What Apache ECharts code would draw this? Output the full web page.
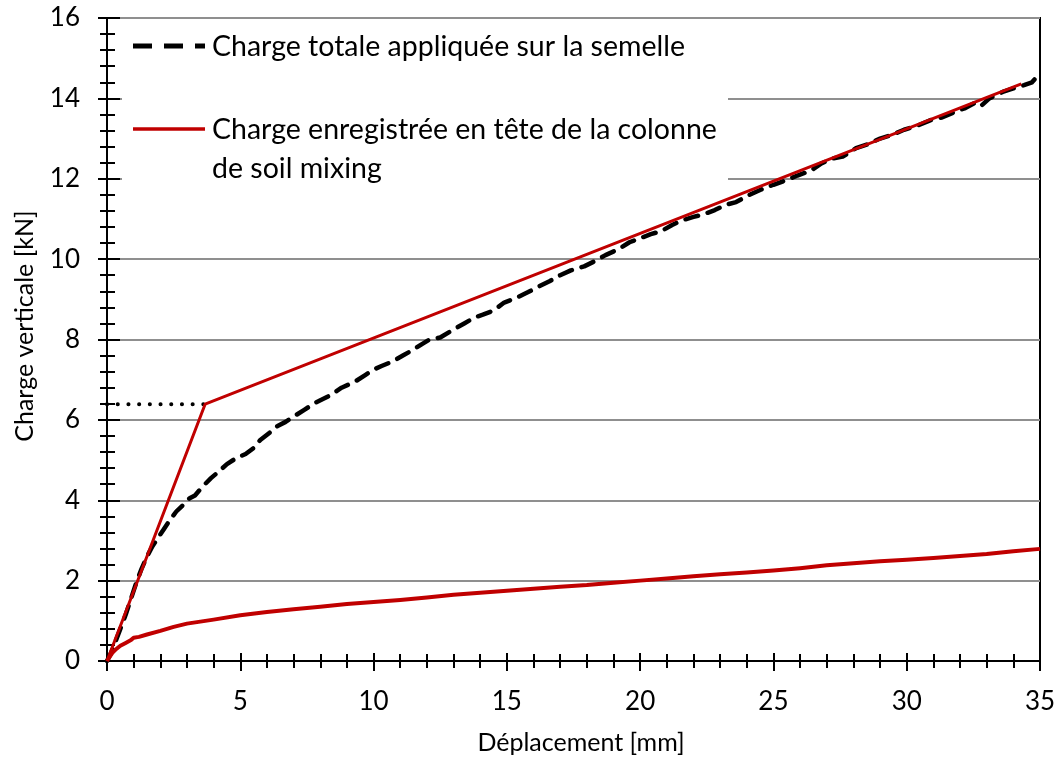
<!DOCTYPE html>
<html>
<head>
<meta charset="utf-8">
<script src="https://cdn.jsdelivr.net/npm/echarts@6/dist/echarts.min.js"></script>
<style>
  html, body { margin: 0; padding: 0; background: #fff; }
  #chart { width: 1062px; height: 769px; }
</style>
</head>
<body>
<div id="chart"></div>
<script>
// Load test: displacement (mm) vs vertical load (kN)

// Total load applied on the footing (measured, dashed black)
const totalDisp = [0, 0.15, 0.3, 0.5, 0.7, 0.9, 1.1, 1.3, 1.5, 1.7, 1.85, 2.1, 2.35, 2.6, 2.85, 3.1, 3.3, 3.6, 3.9, 4.2,
  4.5, 4.85, 5.2, 5.5, 5.75, 6.1, 6.4, 6.7, 7.0, 7.4, 7.8, 8.1, 8.4, 8.8, 9.3, 9.7, 10.0, 10.3, 10.7, 11.1,
  11.5, 11.8, 12.1, 12.5, 13.0, 13.4, 13.8, 14.1, 14.5, 14.9, 15.3, 15.8, 16.2, 16.6, 17.0, 17.4, 17.9, 18.3, 18.7, 19.2,
  19.6, 20.0, 20.4, 20.8, 21.2, 21.6, 22.0, 22.4, 22.8, 23.2, 23.6, 24.1, 24.5, 25.0, 25.5, 25.9, 26.4, 26.8, 27.2, 27.6,
  28.1, 28.5, 29.0, 29.4, 29.9, 30.4, 30.9, 31.3, 31.8, 32.2, 32.6, 32.8, 33.1, 33.6, 34.0, 34.4, 34.7, 34.9];
const totalLoad = [0, 0.2, 0.45, 0.8, 1.15, 1.55, 1.95, 2.3, 2.6, 2.85, 3.0, 3.25, 3.5, 3.72, 3.88, 4.05, 4.12, 4.35, 4.55, 4.72,
  4.9, 5.05, 5.15, 5.3, 5.5, 5.68, 5.85, 5.95, 6.08, 6.25, 6.42, 6.52, 6.62, 6.8, 6.95, 7.12, 7.25, 7.34, 7.45, 7.6,
  7.75, 7.88, 8.0, 8.05, 8.25, 8.4, 8.55, 8.62, 8.72, 8.92, 9.02, 9.18, 9.32, 9.45, 9.6, 9.72, 9.82, 9.95, 10.1, 10.25,
  10.42, 10.52, 10.62, 10.7, 10.85, 10.97, 11.05, 11.12, 11.22, 11.35, 11.42, 11.6, 11.72, 11.85, 11.97, 12.08, 12.2, 12.38, 12.5, 12.55,
  12.76, 12.85, 13.0, 13.08, 13.22, 13.32, 13.46, 13.52, 13.66, 13.76, 13.9, 13.82, 14.0, 14.16, 14.25, 14.33, 14.4, 14.55];

// Load recorded at the head of the soil-mixing column (solid red)
const columnDisp = [0, 0.1, 0.2, 0.35, 0.5, 0.7, 0.9, 1.0, 1.2, 1.5, 2.0, 2.5, 3.0, 3.5, 4.0, 5.0, 6.0, 7.0, 8.0, 9.0,
  10, 11, 12, 13, 14, 15, 16, 17, 18, 19, 20, 21, 22, 23, 24, 25, 26, 27, 28, 29, 30, 31, 32, 33, 34, 35];
const columnLoad = [0, 0.1, 0.2, 0.3, 0.38, 0.45, 0.52, 0.58, 0.6, 0.66, 0.75, 0.85, 0.93, 0.98, 1.03, 1.14, 1.22, 1.29, 1.35, 1.42,
  1.47, 1.52, 1.58, 1.65, 1.70, 1.75, 1.80, 1.85, 1.89, 1.95, 2.00, 2.05, 2.11, 2.16, 2.20, 2.25, 2.31, 2.38, 2.43, 2.48,
  2.52, 2.56, 2.61, 2.66, 2.73, 2.79];

// Bilinear idealisation of the total load and the yield level marker
const bilinearDisp = [0, 3.68, 34.3];
const bilinearLoad = [0, 6.39, 14.36];
const yieldDisp = [0, 3.68];
const yieldLoad = [6.39, 6.39];

const xTicks = [0, 5, 10, 15, 20, 25, 30, 35];
const yTicks = [0, 2, 4, 6, 8, 10, 12, 14, 16];

const legendTotal = 'Charge totale appliquée sur la semelle';
const legendColumn = ['Charge enregistrée en tête de la colonne', 'de soil mixing'];
const xTitle = 'Déplacement [mm]';
const yTitle = 'Charge verticale [kN]';

const pairs = (xs, ys) => xs.map((x, i) => [x, ys[i]]);

const FONT = 'Lato, "Open Sans", sans-serif';
const RED = '#c00000';
const FS_TICK = 26;
const FS_TITLE = 25;
const FS_LEGEND = 28.5;

const chart = echarts.init(document.getElementById('chart'), null, { renderer: 'canvas' });

const baseX = {
  type: 'value', min: xTicks[0], max: xTicks[xTicks.length - 1], interval: 5,
  position: 'bottom',
  axisLine: { show: true, onZero: false, lineStyle: { color: '#000', width: 2 } },
  splitLine: { show: false }
};
const baseY = {
  type: 'value', min: yTicks[0], max: yTicks[yTicks.length - 1], interval: 2,
  position: 'left',
  axisLine: { show: true, onZero: false, lineStyle: { color: '#000', width: 2 } }
};

const option = {
  animation: false,
  backgroundColor: '#fff',
  grid: { left: 107, right: 22, top: 18, bottom: 108, show: true, borderColor: '#000', borderWidth: 2, backgroundColor: 'transparent' },
  xAxis: [
    Object.assign({}, baseX, {
      axisTick: { show: true, inside: false, length: 10, lineStyle: { color: '#000', width: 2 } },
      minorTick: { show: true, splitNumber: 5, length: 7, lineStyle: { color: '#000', width: 2 } },
      axisLabel: { show: true, margin: 28, color: '#000', fontFamily: FONT, fontSize: FS_TICK }
    }),
    Object.assign({}, baseX, {
      axisTick: { show: true, inside: true, length: 8, lineStyle: { color: '#000', width: 2 } },
      minorTick: { show: true, splitNumber: 5, length: 7, lineStyle: { color: '#000', width: 2 } },
      axisLabel: { show: false }
    })
  ],
  yAxis: [
    Object.assign({}, baseY, {
      axisTick: { show: true, inside: false, length: 9, lineStyle: { color: '#000', width: 2 } },
      minorTick: { show: true, splitNumber: 5, length: 7, lineStyle: { color: '#000', width: 2 } },
      axisLabel: { show: true, margin: 27, color: '#000', fontFamily: FONT, fontSize: FS_TICK },
      splitLine: { show: true, lineStyle: { color: '#8f8f8f', width: 2 } }
    }),
    Object.assign({}, baseY, {
      axisTick: { show: true, inside: true, length: 13, lineStyle: { color: '#000', width: 2 } },
      minorTick: { show: true, splitNumber: 5, length: 8, lineStyle: { color: '#000', width: 2 } },
      axisLabel: { show: false },
      splitLine: { show: false }
    })
  ],
  graphic: [
    // legend panel background
    { type: 'rect', z: 1, silent: true, shape: { x: 122, y: 20, width: 606, height: 180 }, style: { fill: '#fff' } },
    { type: 'line', z: 5, shape: { x1: 133, y1: 46, x2: 205, y2: 46 },
      style: { stroke: '#000', lineWidth: 5, lineDash: [19, 12], lineCap: 'butt' } },
    { type: 'text', z: 5, x: 212, y: 47, style: { text: legendTotal, fontFamily: FONT, fontSize: FS_LEGEND, fill: '#000', verticalAlign: 'middle' } },
    { type: 'line', z: 5, shape: { x1: 133, y1: 129, x2: 205, y2: 129 },
      style: { stroke: RED, lineWidth: 3.5 } },
    { type: 'text', z: 5, x: 212, y: 130, style: { text: legendColumn[0], fontFamily: FONT, fontSize: FS_LEGEND, fill: '#000', verticalAlign: 'middle' } },
    { type: 'text', z: 5, x: 212, y: 169, style: { text: legendColumn[1], fontFamily: FONT, fontSize: FS_LEGEND, fill: '#000', verticalAlign: 'middle' } },
    // axis titles
    { type: 'text', z: 5, x: 581, y: 743, style: { text: xTitle, fontFamily: FONT, fontSize: FS_TITLE, fill: '#000', align: 'center', verticalAlign: 'middle' } },
    { type: 'text', z: 5, x: 25, y: 326, rotation: Math.PI / 2, style: { text: yTitle, fontFamily: FONT, fontSize: FS_TITLE, fill: '#000', align: 'center', verticalAlign: 'middle' } }
  ],
  series: [
    {
      name: 'yield', type: 'line', z: 3, symbol: 'none', silent: true,
      data: pairs(yieldDisp, yieldLoad),
      lineStyle: { color: '#000', width: 4, type: [0.1, 10.6], cap: 'round' }
    },
    {
      name: 'total', type: 'line', z: 3, symbol: 'none', silent: true,
      data: pairs(totalDisp, totalLoad),
      lineStyle: { color: '#000', width: 4.5, type: [13, 10], cap: 'round', join: 'round' }
    },
    {
      name: 'bilinear', type: 'line', z: 4, symbol: 'none', silent: true,
      data: pairs(bilinearDisp, bilinearLoad),
      lineStyle: { color: RED, width: 3 }
    },
    {
      name: 'column', type: 'line', z: 4, symbol: 'none', silent: true,
      data: pairs(columnDisp, columnLoad),
      lineStyle: { color: RED, width: 4, join: 'round' }
    }
  ]
};

chart.setOption(option);
</script>
</body>
</html>
